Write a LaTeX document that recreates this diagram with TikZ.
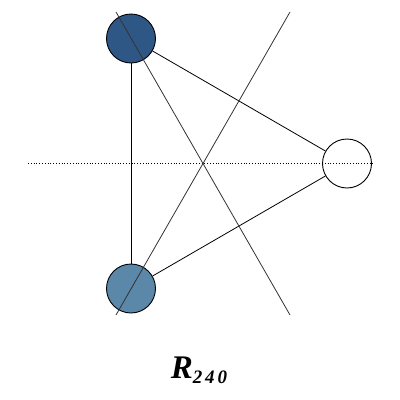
\documentclass[tikz,border=0pt]{standalone}
\usepackage{fontspec}
\setmainfont{Liberation Serif}
\newfontfamily\spacedfont[LetterSpace=15]{Liberation Serif}
\definecolor{topblue}{HTML}{2F5786}
\definecolor{lowblue}{HTML}{5B87A8}

\begin{document}
\begin{tikzpicture}[x=1pt,y=-1pt,vertex/.style={circle,draw,line width=0.9pt,minimum size=49pt,inner sep=0pt},axis/.style={black!80,line width=0.8pt}]
\useasboundingbox (0,0) rectangle (400,400);
\node[vertex,fill=topblue] (p1) at (131,38.5) {}; \node[vertex,fill=white] (p2) at (347,163.5) {}; \node[vertex,fill=lowblue] (p3) at (131,288.5) {};
\draw[line width=0.8pt] (p1)--(p2); \draw[line width=0.8pt] (p2)--(p3); \draw[line width=0.8pt] (p3)--(p1);
\coordinate (h1) at (28,163.5); \coordinate (h2) at (375,163.5);
\coordinate (a1) at (116,12); \coordinate (a2) at (290,315); \coordinate (b1) at (290,12); \coordinate (b2) at (116,315);
\draw[dotted,line width=0.8pt] (h1)--(h2); \draw[axis] (a1)--(a2); \draw[axis] (b1)--(b2);
\node[anchor=base,inner sep=0pt] (rot) at (199,378) {\bfseries\itshape\fontsize{33}{36}\selectfont R\raisebox{-5pt}{\fontsize{19}{22}\selectfont\spacedfont\bfseries\itshape 240}};
\end{tikzpicture}
\end{document}
